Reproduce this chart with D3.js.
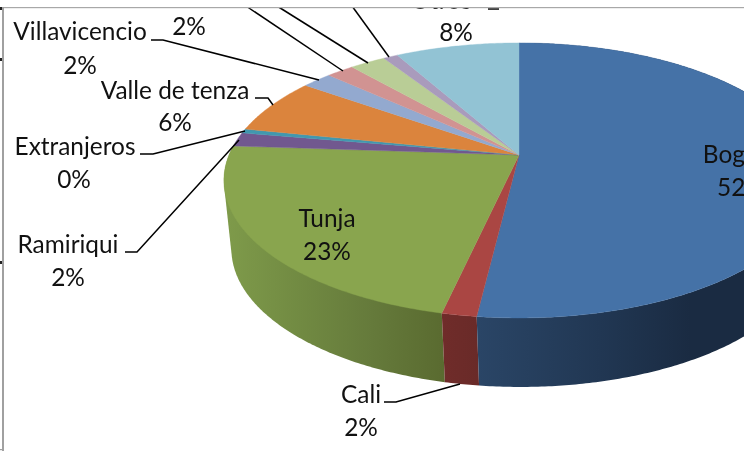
<!DOCTYPE html>
<html><head><meta charset="utf-8">
<script src="https://cdn.jsdelivr.net/npm/d3@7/dist/d3.min.js"></script>
<style>html,body{margin:0;padding:0;background:#fff;overflow:hidden}svg{display:block;filter:blur(0.35px)}text{font-family:Lato,"Noto Sans",sans-serif;font-size:24.4px;fill:#111}</style>
</head><body><svg id="c" width="744" height="451"></svg>
<script>
// Data (percent share, in drawing order clockwise from 12 o'clock)
const categories = ["Bogotá","Cali","Tunja","Ramiriqui","Extranjeros","Valle de tenza","Villavicencio","","","","Otros"];
const values     = [51.9, 1.6, 22.6, 1.65, 0.5, 6.6, 1.95, 1.8, 2.35, 0.95, 8.1];
const percentLabels = ["52%","2%","23%","2%","0%","6%","2%","2%","","","8%"];
const topColors  = ["#4572A7","#AA4643","#89A54E","#71588F","#4198AF","#DB843D","#93A9CF","#D19392","#B9CD96","#A99BBC","#92C3D4"];

// label layout: name centre x, name baseline y, percent centre x, percent baseline y
const labelPos = [[741,163,741,196],[361,403,361,436],[327,227,327,260],[68,253,68,286],[75,155,74,188],[175,99,175,131],[80,40,80,74],[0,-30,189,35],[0,-30,0,-30],[0,-30,0,-30],[441,9,456,41]];
const leaders = [
  [[151,40],[163,40],[319,80]],
  [[246,6],[343,71]],
  [[277,6],[368,63]],
  [[352,6],[389,57]],
  [[255,98],[268,98],[273,105]],
  [[140,154],[153,154],[245,131]],
  [[125,252],[137,252],[239,140]],
  [[384,402],[396,402],[460,384]],
  [[488,9],[499,9]]
];

const svg = d3.select("#c");
const defs = svg.append("defs");

// Perspective disc: apex, top ellipse and bottom ellipse
const apex = {x:519, y:155}, topE = {cx:519, cy:180.5, rx:295, ry:137.5}, botE = {cx:520.5, cy:249, rx:289, ry:138};
const k = 0.185, R = 290, S = 132.8;
const project = a => {
  const u = Math.sin(a), v = -Math.cos(a), w = 1 - k * v;
  return [apex.x + R * u / w, apex.y + S * v / w];
};
const toBottom = p => [botE.cx + (p[0]-topE.cx)/topE.rx*botE.rx, botE.cy + (p[1]-topE.cy)/topE.ry*botE.ry];
const line = d3.line();
const samples = (a0,a1) => { const n = Math.max(2, Math.ceil((a1-a0)/0.01)); return d3.range(n+1).map(i => a0+(a1-a0)*i/n); };

const arcs = d3.pie().sort(null).startAngle(0).endAngle(2*Math.PI)(values);

// Wall gradients (horizontal shading of the front rim)
function grad(id, stops){
  const g = defs.append("linearGradient").attr("id",id).attr("gradientUnits","userSpaceOnUse").attr("x1",225).attr("x2",744).attr("y1",0).attr("y2",0);
  stops.forEach(s => g.append("stop").attr("offset",(s[0]-225)/519).attr("stop-color",s[1]));
}
grad("wall0",[[478,"#2A4566"],[600,"#213753"],[690,"#1A2B42"],[744,"#1A2B42"]]);
grad("wall1",[[440,"#702C2A"],[480,"#692A28"]]);
grad("wall2",[[228,"#7E9A4A"],[300,"#718A42"],[372,"#657A3B"],[443,"#5A6B30"]]);

// Visible side walls: green (hull gives its straight left silhouette), red, blue
[2,1,0].forEach(i => {
  const d = arcs[i], top = samples(d.startAngle,d.endAngle).map(project);
  const bot = top.map(toBottom).reverse();
  const outline = i === 2 ? d3.polygonHull(top.concat(bot)) : top.concat(bot);
  svg.append("path").attr("d", line(outline)+"Z").attr("fill",`url(#wall${i})`);
});

// Top surface
svg.selectAll("path.slice").data(arcs).join("path").attr("class","slice")
  .attr("d", d => line([[apex.x,apex.y]].concat(samples(d.startAngle,d.endAngle).map(project)))+"Z")
  .attr("fill",(d,i)=>topColors[i]).attr("stroke",(d,i)=>topColors[i]).attr("stroke-width",0.4);

// Leaders
svg.selectAll("path.leader").data(leaders).join("path").attr("class","leader")
  .attr("d",d=>line(d)).attr("fill","none").attr("stroke","#000").attr("stroke-width",1.5);

// Labels
categories.forEach((c,i)=>{
  const p = labelPos[i];
  if(c) svg.append("text").attr("x",p[0]).attr("y",p[1]).attr("text-anchor","middle").text(c);
  if(percentLabels[i]) svg.append("text").attr("x",p[2]).attr("y",p[3]).attr("text-anchor","middle").text(percentLabels[i]);
});

// Cropped frame of the source picture
svg.append("rect").attr("x",0).attr("y",0).attr("width",744).attr("height",7).attr("fill","#fff");
svg.append("rect").attr("x",0).attr("y",7).attr("width",744).attr("height",1.2).attr("fill","#a8a8a8");
svg.append("rect").attr("x",2).attr("y",7).attr("width",2).attr("height",444).attr("fill","#a0a0a0");
svg.append("rect").attr("x",0).attr("y",449).attr("width",4).attr("height",1.2).attr("fill","#a0a0a0");
[8,59,262].forEach(y=>svg.append("rect").attr("x",0).attr("y",y-1).attr("width",2).attr("height",3).attr("fill","#222"));
</script></body></html>
